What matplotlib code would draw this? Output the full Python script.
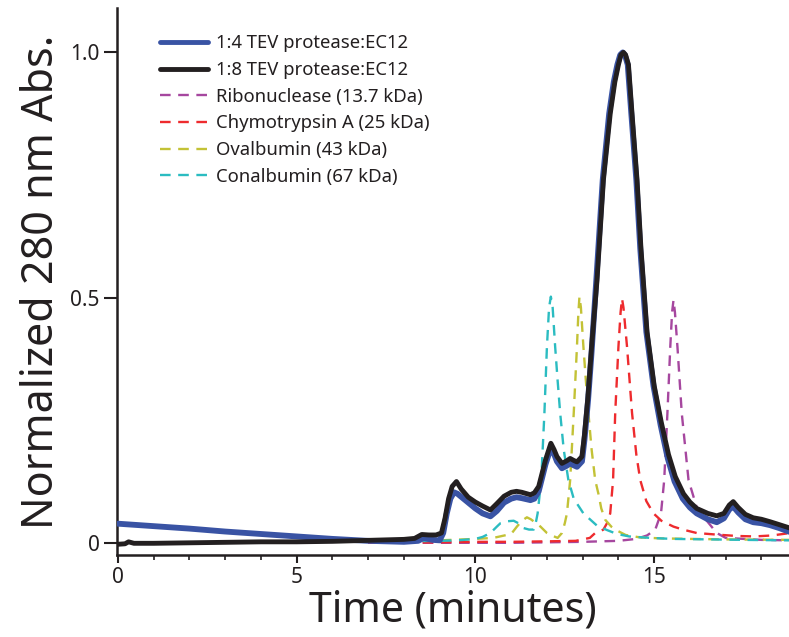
import matplotlib
matplotlib.use("Agg")
import matplotlib.pyplot as plt
from matplotlib.ticker import MultipleLocator, FixedLocator

plt.rcParams['font.family'] = ['Noto Sans', 'DejaVu Sans']

# ---- data ----
black_x = [0.0, 0.2, 0.3, 0.45, 1.0, 2.0, 3.0, 4.0, 5.0, 6.0, 7.0, 8.0, 8.3, 8.5, 8.7, 8.9,
           9.05, 9.15, 9.25, 9.35, 9.47, 9.6, 9.8, 10.0, 10.2, 10.42, 10.6, 10.8, 11.0, 11.15,
           11.3, 11.54, 11.65, 11.77, 11.96, 12.11, 12.2, 12.28, 12.42, 12.55, 12.65, 12.75,
           12.84, 12.98, 13.05, 13.15, 13.25, 13.4, 13.58, 13.77, 13.9, 14.0, 14.07, 14.14,
           14.2, 14.28, 14.38, 14.52, 14.63, 14.8, 15.0, 15.2, 15.4, 15.59, 15.82, 16.0, 16.19,
           16.5, 16.75, 16.95, 17.1, 17.21, 17.35, 17.55, 17.77, 18.0, 18.24, 18.5, 18.8]
black_y = [-0.003, -0.002, 0.002, -0.001, -0.001, 0.000, 0.001, 0.002, 0.002, 0.003, 0.005, 0.007,
           0.009, 0.017, 0.016, 0.016, 0.02, 0.05, 0.09, 0.115, 0.125, 0.11, 0.093, 0.083, 0.075,
           0.067, 0.08, 0.095, 0.103, 0.105, 0.103, 0.098, 0.102, 0.115, 0.169, 0.203, 0.19,
           0.176, 0.162, 0.167, 0.172, 0.168, 0.165, 0.176, 0.22, 0.3, 0.4, 0.535, 0.74, 0.875,
           0.94, 0.975, 0.995, 1.0, 0.995, 0.975, 0.875, 0.74, 0.6, 0.43, 0.32, 0.245, 0.18,
           0.135, 0.1, 0.083, 0.07, 0.06, 0.055, 0.06, 0.077, 0.084, 0.072, 0.058, 0.051, 0.048,
           0.043, 0.037, 0.03]

blue_x = [0.0, 1.0, 2.0, 3.0, 4.0, 5.0, 6.0, 7.0, 8.0, 8.4, 8.55, 8.8, 9.0, 9.1, 9.2, 9.3, 9.4,
          9.5, 9.7, 10.0, 10.2, 10.42, 10.6, 10.8, 11.0, 11.15, 11.3, 11.54, 11.65, 11.77, 11.96,
          12.11, 12.2, 12.28, 12.42, 12.55, 12.65, 12.75, 12.84, 12.98, 13.05, 13.15, 13.25,
          13.38, 13.56, 13.74, 13.87, 13.97, 14.05, 14.12, 14.18, 14.26, 14.36, 14.5, 14.61,
          14.78, 14.98, 15.18, 15.38, 15.57, 15.8, 16.0, 16.19, 16.5, 16.75, 16.95, 17.1, 17.21,
          17.35, 17.55, 17.77, 18.0, 18.24, 18.5, 18.8]
blue_y = [0.039, 0.034, 0.029, 0.023, 0.018, 0.013, 0.008, 0.004, 0.002, 0.004, 0.01, 0.006,
          0.005, 0.02, 0.06, 0.09, 0.103, 0.1, 0.088, 0.07, 0.06, 0.054, 0.065, 0.082, 0.09,
          0.093, 0.091, 0.087, 0.09, 0.105, 0.16, 0.194, 0.181, 0.166, 0.152, 0.157, 0.162,
          0.158, 0.155, 0.166, 0.21, 0.29, 0.39, 0.535, 0.74, 0.875, 0.94, 0.975, 0.995, 1.0,
          0.995, 0.975, 0.875, 0.74, 0.6, 0.43, 0.32, 0.24, 0.172, 0.125, 0.09, 0.072, 0.06,
          0.048, 0.042, 0.05, 0.068, 0.074, 0.062, 0.048, 0.042, 0.04, 0.036, 0.03, 0.022]

conal_x = [7.0, 9.0, 9.5, 10.0, 10.2, 10.42, 10.6, 10.7, 10.9, 11.07, 11.2, 11.35, 11.5, 11.63,
           11.7, 11.74, 11.84, 11.93, 12.0, 12.06, 12.11, 12.16, 12.23, 12.3, 12.37, 12.47,
           12.6, 12.75, 13.02, 13.4, 13.68, 13.96, 14.3, 14.9, 15.5, 16.5, 17.5, 18.8]
conal_y = [0.002, 0.004, 0.005, 0.008, 0.012, 0.02, 0.033, 0.04, 0.044, 0.045, 0.04, 0.03,
           0.027, 0.027, 0.045, 0.06, 0.128, 0.265, 0.4, 0.48, 0.502, 0.48, 0.4, 0.33, 0.265,
           0.19, 0.128, 0.09, 0.06, 0.035, 0.026, 0.018, 0.013, 0.01, 0.008, 0.007, 0.006, 0.005]

oval_x = [7.0, 9.0, 10.0, 10.5, 11.0, 11.16, 11.3, 11.44, 11.55, 11.7, 11.82, 12.0, 12.1, 12.3,
          12.42, 12.5, 12.56, 12.65, 12.75, 12.84, 12.88, 12.91, 12.95, 13.02, 13.09, 13.16,
          13.25, 13.35, 13.44, 13.52, 13.63, 13.8, 13.96, 14.2, 14.6, 15.2, 16.0, 17.0, 18.8]
oval_y = [0.003, 0.005, 0.008, 0.01, 0.018, 0.033, 0.045, 0.052, 0.048, 0.04, 0.033, 0.02,
          0.016, 0.01, 0.02, 0.04, 0.06, 0.128, 0.265, 0.4, 0.47, 0.502, 0.48, 0.4, 0.33,
          0.265, 0.19, 0.128, 0.1, 0.07, 0.047, 0.033, 0.025, 0.016, 0.011, 0.009, 0.008,
          0.007, 0.006]

chymo_x = [7.0, 9.0, 10.0, 11.0, 12.0, 12.8, 13.2, 13.35, 13.5, 13.58, 13.68, 13.77, 13.85,
           13.91, 14.0, 14.06, 14.1, 14.14, 14.19, 14.24, 14.38, 14.5, 14.61, 14.78, 14.98,
           15.2, 15.54, 15.8, 16.19, 16.7, 17.3, 17.8, 18.3, 18.8]
chymo_y = [0.0, 0.001, 0.002, 0.002, 0.003, 0.004, 0.01, 0.02, 0.024, 0.027, 0.04, 0.06,
           0.128, 0.265, 0.4, 0.47, 0.498, 0.48, 0.44, 0.4, 0.265, 0.18, 0.128, 0.085, 0.06,
           0.045, 0.033, 0.027, 0.02, 0.017, 0.014, 0.013, 0.015, 0.02]

ribo_x = [7.0, 9.0, 10.0, 11.0, 12.0, 13.0, 14.0, 14.5, 14.8, 15.03, 15.19, 15.28, 15.37,
          15.45, 15.5, 15.54, 15.58, 15.65, 15.77, 15.96, 16.19, 16.47, 16.75, 17.0, 18.0, 18.8]
ribo_y = [0.0, 0.0, 0.0, 0.0, 0.001, 0.002, 0.004, 0.008, 0.015, 0.027, 0.06, 0.128, 0.265,
          0.4, 0.47, 0.495, 0.47, 0.4, 0.265, 0.128, 0.072, 0.045, 0.02, 0.01, 0.006, 0.005]

labels = ['1:4 TEV protease:EC12', '1:8 TEV protease:EC12', 'Ribonuclease (13.7 kDa)',
          'Chymotrypsin A (25 kDa)', 'Ovalbumin (43 kDa)', 'Conalbumin (67 kDa)']
x_ticks = [0, 5, 10, 15]
x_ticklabels = ['0', '5', '10', '15']
y_ticks = [0, 0.5, 1.0]
y_ticklabels = ['0', '0.5', '1.0']

# ---- colours ----
c_blue = '#3953a4'
c_black = '#231f20'
c_purple = '#a6479f'
c_red = '#ee2b2e'
c_yellow = '#c3c236'
c_cyan = '#2bbcc1'
txt = '#231f20'

fig = plt.figure(figsize=(7.89, 6.37), dpi=100)
ax = fig.add_axes([0.148, 0.129, 0.852, 0.858])

dash = (4.5, 3.2)
lw_d = 1.7
ax.plot(ribo_x, ribo_y, color=c_purple, lw=lw_d, dashes=dash, label=labels[2], zorder=2)
ax.plot(chymo_x, chymo_y, color=c_red, lw=lw_d, dashes=dash, label=labels[3], zorder=2)
ax.plot(oval_x, oval_y, color=c_yellow, lw=lw_d, dashes=dash, label=labels[4], zorder=2)
ax.plot(conal_x, conal_y, color=c_cyan, lw=lw_d, dashes=dash, label=labels[5], zorder=2)
ax.plot(blue_x, blue_y, color=c_blue, lw=4.2, label=labels[0], zorder=3,
        solid_joinstyle='round', solid_capstyle='round')
ax.plot(black_x, black_y, color=c_black, lw=3.5, label=labels[1], zorder=4,
        solid_joinstyle='round', solid_capstyle='round')

ax.set_xlim(-0.03, 18.77)
ax.set_ylim(-0.0245, 1.09)

for s in ['top', 'right']:
    ax.spines[s].set_visible(False)
for s in ['left', 'bottom']:
    ax.spines[s].set_linewidth(1.8)
    ax.spines[s].set_color(c_black)

ax.xaxis.set_major_locator(FixedLocator(x_ticks))
ax.set_xticklabels(x_ticklabels)
ax.xaxis.set_minor_locator(MultipleLocator(1))
ax.yaxis.set_major_locator(FixedLocator(y_ticks))
ax.set_yticklabels(y_ticklabels)

ax.tick_params(axis='x', which='major', direction='out', length=6, width=1.5,
               labelsize=15, pad=3, colors=c_black, labelcolor=txt)
ax.tick_params(axis='x', which='minor', direction='out', length=3.5, width=1.2, colors=c_black)
ax.tick_params(axis='y', which='major', direction='out', length=9.5, width=1.5,
               labelsize=15, pad=3, colors=c_black, labelcolor=txt)

ax.set_xlabel('Time (minutes)', fontsize=29.5, color=txt, labelpad=0.5)
ax.set_ylabel('Normalized 280 nm Abs.', fontsize=31, color=txt, labelpad=4)

handles, labs = ax.get_legend_handles_labels()
order = [labs.index(l) for l in labels]
leg = ax.legend([handles[i] for i in order], [labs[i] for i in order],
                loc='upper left', bbox_to_anchor=(0.203, 0.946),
                bbox_transform=fig.transFigure, frameon=False, fontsize=13.3,
                handlelength=2.6, handletextpad=0.42, labelspacing=0.47,
                borderpad=0, borderaxespad=0)
for t in leg.get_texts():
    t.set_color(txt)
for lh in leg.get_lines()[:2]:
    lh.set_linewidth(3.5)

fig.savefig('out.png', dpi=100)
